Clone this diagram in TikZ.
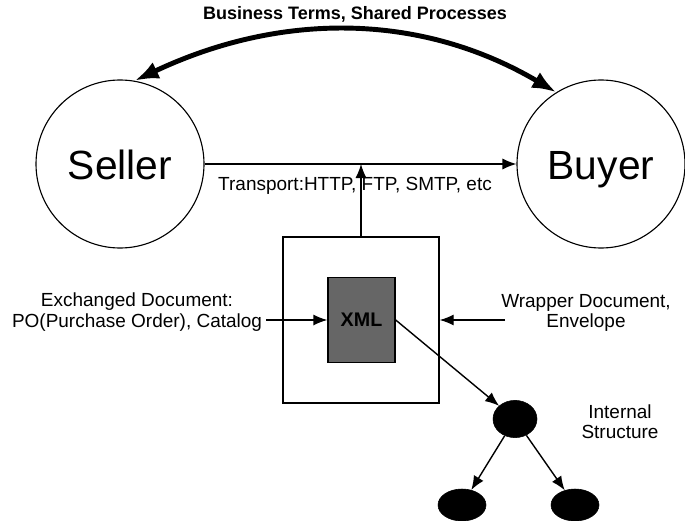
\documentclass[tikz,border=0pt]{standalone}
\usepackage{fontspec}
\setmainfont{Liberation Sans}
\usepackage{tikz}
\usetikzlibrary{shapes}
\usetikzlibrary{arrows.meta}

\tikzset{
  party/.style={draw,thick,circle,minimum size=4.2cm,inner sep=0pt,text height=22pt,text depth=0pt,font=\fontsize{29}{32}\selectfont},
  note/.style={align=center,font=\fontsize{13.5}{14.5}\selectfont},
  leaf/.style={ellipse,fill=black,draw,inner sep=0pt},
  wire/.style={-{Latex[length=3.5mm,width=2.8mm]},line width=1pt},
}

\begin{document}
\begin{tikzpicture}
    \useasboundingbox (0,0) rectangle (17.125,-13.025);

    \node[party] (seller) at (3.0,-4.1) {Seller};
    \node[party] (buyer) at (15.025,-4.1) {Buyer};
    \node[font=\bfseries\fontsize{12.8}{14}\selectfont] (terms) at (8.875,-0.35) {Business Terms, Shared Processes};

    \draw[{Latex[length=6mm,width=4.5mm]}-{Latex[length=6mm,width=4.5mm]},line width=3.5pt] (seller.80) .. controls (7,-0.3) and (10.5,-0.3) .. (buyer.122);
    \draw[wire] (seller) -- (buyer);
    \node[note] (transport) at (8.875,-4.65) {Transport:HTTP, FTP, SMTP, etc};

    \node[draw,line width=1pt,minimum width=3.9cm,minimum height=4.15cm] (wrapper) at (9.025,-8.0) {};
    \node[draw,line width=1pt,fill=black!60,minimum width=1.675cm,minimum height=2.125cm,font=\bfseries\fontsize{14}{16}\selectfont] (xml) at (9.0375,-8.0) {XML};
    \coordinate (tap) at (wrapper.north |- seller.east);
    \draw[wire] (wrapper) -- (tap);

    \node[note] (exch) at (3.425,-7.8) {Exchanged Document:\\PO(Purchase Order), Catalog};
    \coordinate (exchin) at (6.65,-8.0);
    \draw[wire] (exchin) -- (xml.west);

    \node[note] (wrap) at (14.65,-7.825) {Wrapper Document,\\Envelope};
    \coordinate (wrapin) at (12.625,-8.0);
    \draw[wire] (wrapin) -- (wrapper.east);

    \node[leaf,minimum width=1.1cm,minimum height=0.93cm] (root) at (12.875,-10.475) {};
    \node[leaf,minimum width=1.2cm,minimum height=0.8cm] (leafl) at (11.55,-12.625) {};
    \node[leaf,minimum width=1.2cm,minimum height=0.8cm] (leafr) at (14.375,-12.625) {};
    \node[note] (internal) at (15.5,-10.55) {Internal\\Structure};

    \draw[wire] (xml.east) -- (root);
    \draw[wire] (root) -- (leafl);
    \draw[wire] (root) -- (leafr);
\end{tikzpicture}
\end{document}
